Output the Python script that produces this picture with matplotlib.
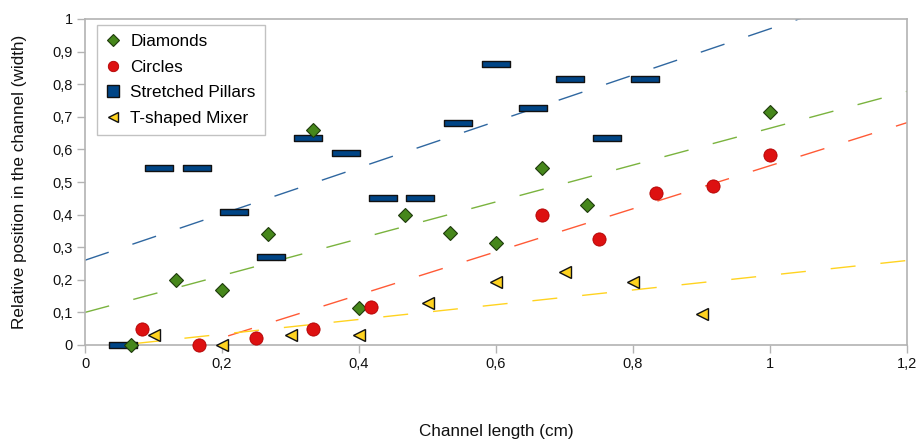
import numpy as np
import matplotlib
matplotlib.use("Agg")
import matplotlib.pyplot as plt
from matplotlib.path import Path
from matplotlib.lines import Line2D

plt.rcParams['font.family'] = ['Liberation Sans', 'DejaVu Sans']
plt.rcParams['lines.scale_dashes'] = False

# data
diam_x = [0.067, 0.133, 0.2, 0.267, 0.333, 0.4, 0.467, 0.533, 0.6, 0.667, 0.733, 1.0]
diam_y = [0.0, 0.2, 0.17, 0.34, 0.66, 0.115, 0.4, 0.343, 0.313, 0.543, 0.43, 0.715]

circ_x = [0.083, 0.167, 0.25, 0.333, 0.417, 0.667, 0.75, 0.833, 0.917, 1.0]
circ_y = [0.05, 0.0, 0.021, 0.049, 0.117, 0.40, 0.325, 0.466, 0.488, 0.583]

pill_x = [0.055, 0.108, 0.163, 0.218, 0.272, 0.326, 0.381, 0.435, 0.489,
          0.544, 0.6, 0.654, 0.708, 0.762, 0.817]
pill_y = [0.0, 0.543, 0.543, 0.408, 0.27, 0.635, 0.589, 0.451, 0.451,
          0.681, 0.862, 0.727, 0.816, 0.635, 0.816]

tmix_x = [0.1, 0.2, 0.3, 0.4, 0.5, 0.6, 0.7, 0.8, 0.9]
tmix_y = [0.03, 0.0, 0.03, 0.03, 0.13, 0.193, 0.224, 0.193, 0.095]

# linear trendlines (intercept, slope)
trend_diam = [0.10, 0.565]
trend_circ = [-0.11, 0.66]
trend_pill = [0.26, 0.71]
trend_tmix = [-0.012, 0.226]

labels = ['Diamonds', 'Circles', 'Stretched Pillars', 'T-shaped Mixer']

fig = plt.figure(figsize=(9.19, 4.41), dpi=100)
ax = fig.add_axes([85 / 919, 96 / 441, 822 / 919, 326 / 441])

xs = np.array([0.0, 1.2])
dash = (0, (18, 18))
for (b, m), c in [(trend_pill, '#2f67a0'), (trend_diam, '#7ab33e'),
                  (trend_circ, '#ff5a36'), (trend_tmix, '#ffd320')]:
    ax.plot(xs, b + m * xs, color=c, lw=1.0, linestyle=dash, zorder=2)

# flat bar marker for the pillars
rect = Path([(-2, -0.5), (2, -0.5), (2, 0.5), (-2, 0.5), (-2, -0.5)],
            [Path.MOVETO, Path.LINETO, Path.LINETO, Path.LINETO, Path.CLOSEPOLY])

diam_style = dict(marker='D', mfc='#46871b', mec='#1e3a0c', mew=0.8)
circ_style = dict(marker='o', mfc='#dd1111', mec='#b00000', mew=0.6)
pill_style = dict(mfc='#004586', mec='#111111', mew=1.0)
tmix_style = dict(marker='<', mfc='#ffd320', mec='#111111', mew=1.0)

ax.plot(diam_x, diam_y, ls='none', ms=7.5, clip_on=False, zorder=4, **diam_style)
ax.plot(circ_x, circ_y, ls='none', ms=9.5, clip_on=False, zorder=4, **circ_style)
ax.plot(pill_x, pill_y, marker=rect, ls='none', ms=20, clip_on=False, zorder=3, **pill_style)
ax.plot(tmix_x, tmix_y, ls='none', ms=8.5, clip_on=False, zorder=4, **tmix_style)

ax.set_xlim(0, 1.2)
ax.set_ylim(0, 1)
ax.set_xticks([0, 0.2, 0.4, 0.6, 0.8, 1.0, 1.2])
ax.set_xticklabels(['0', '0,2', '0,4', '0,6', '0,8', '1', '1,2'])
ax.set_yticks([0, 0.1, 0.2, 0.3, 0.4, 0.5, 0.6, 0.7, 0.8, 0.9, 1.0])
ax.set_yticklabels(['0', '0,1', '0,2', '0,3', '0,4', '0,5', '0,6', '0,7', '0,8', '0,9', '1'])
ax.tick_params(direction='out', length=6, width=1, color='#b3b3b3',
               labelsize=10.5, labelcolor='#111111', pad=3)
for s in ax.spines.values():
    s.set_color('#b3b3b3')
    s.set_linewidth(1.2)

ax.set_xlabel('Channel length (cm)', fontsize=12.3, color='#111111')
ax.xaxis.set_label_coords(0.5, -0.242)
ax.set_ylabel('Relative position in the channel (width)', fontsize=12.3, color='#111111')
ax.yaxis.set_label_coords(-0.071, 0.5)

handles = [
    Line2D([], [], ls='none', ms=6.5, **diam_style),
    Line2D([], [], ls='none', ms=7.5, **circ_style),
    Line2D([], [], ls='none', marker='s', ms=8, **pill_style),
    Line2D([], [], ls='none', ms=7.5, **tmix_style),
]
leg = ax.legend(handles, labels, loc='upper left', bbox_to_anchor=(0.0146, 0.983),
                borderaxespad=0, fontsize=12.3, frameon=True, fancybox=False,
                handlelength=0.8, handletextpad=0.6, labelspacing=0.62, borderpad=0.55)
leg.get_frame().set_edgecolor('#b3b3b3')
leg.get_frame().set_linewidth(1.0)

fig.savefig('out.png', dpi=100)
